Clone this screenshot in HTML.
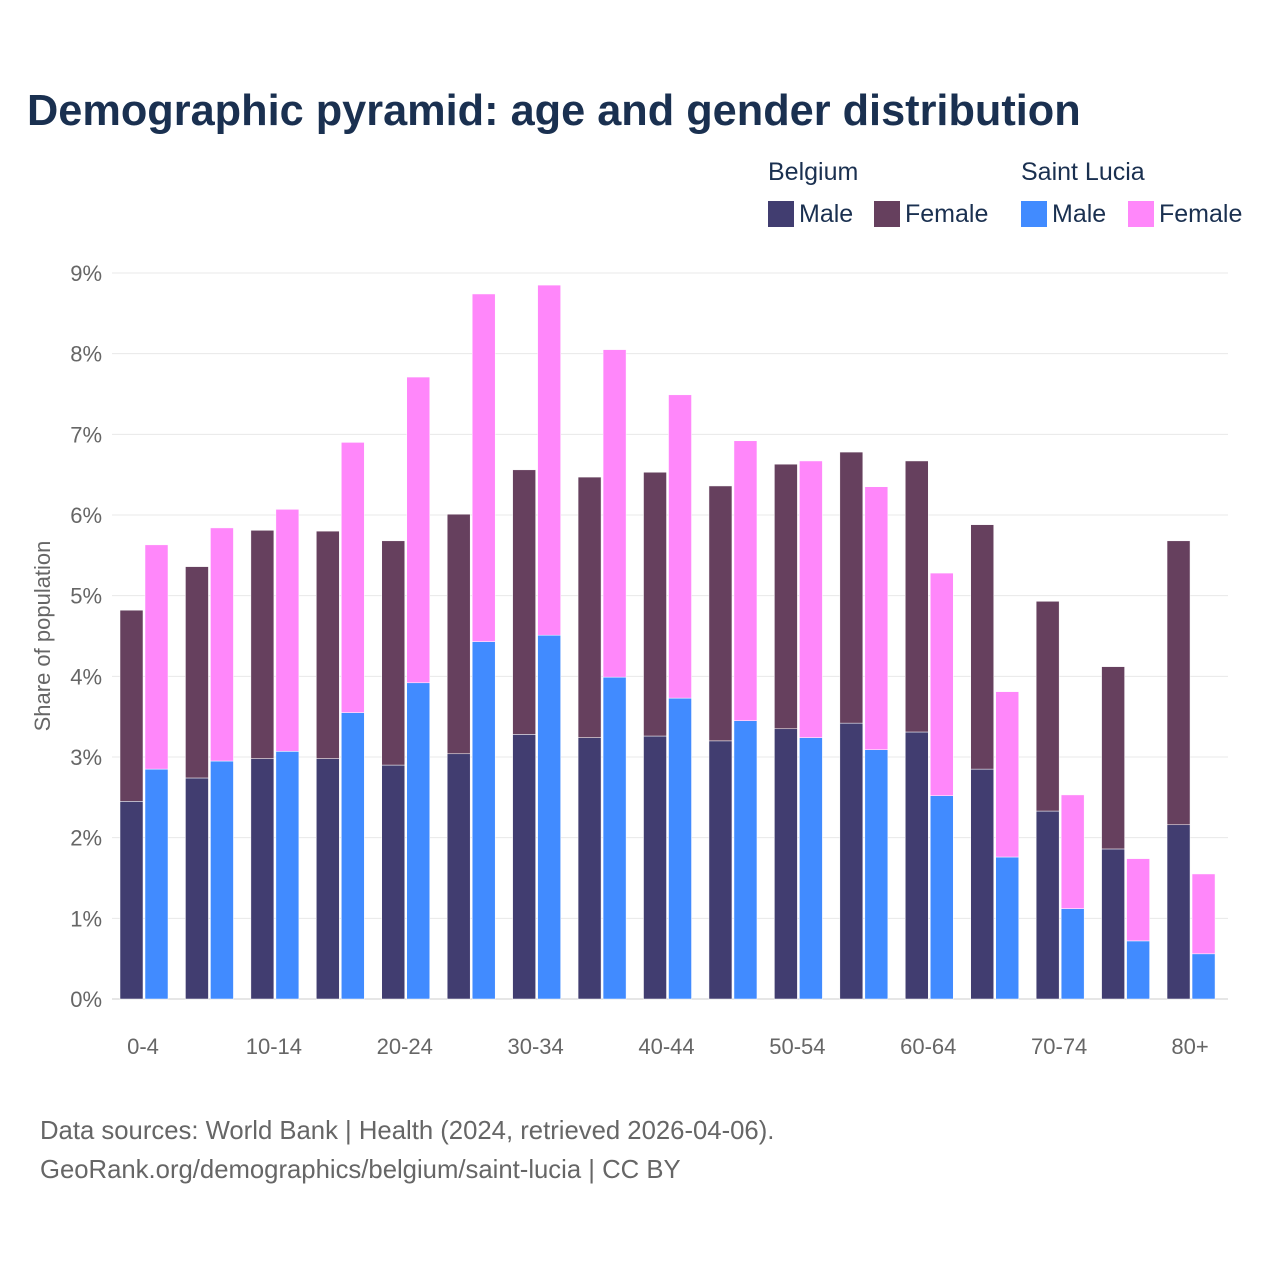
<!DOCTYPE html>
<html><head><meta charset="utf-8">
<style>
body{margin:0;background:#fff;font-family:"Liberation Sans",sans-serif;}
#wrap{position:relative;width:1280px;height:1280px;overflow:hidden}
</style></head>
<body>
<div id="wrap">
<svg id="chart" width="1280" height="1280">
<text x="27" y="125" font-size="43.3" font-weight="bold" fill="#1a3050">Demographic pyramid: age and gender distribution</text>
<g font-size="25" fill="#1a3050">
<text x="768" y="180">Belgium</text>
<text x="1021" y="180">Saint Lucia</text>
<rect x="768" y="201" width="26" height="26" fill="#413d70"/>
<text x="799" y="222">Male</text>
<rect x="874" y="201" width="26" height="26" fill="#66405e"/>
<text x="905" y="222">Female</text>
<rect x="1021" y="201" width="26" height="26" fill="#418bff"/>
<text x="1052" y="222">Male</text>
<rect x="1128" y="201" width="26" height="26" fill="#ff87fa"/>
<text x="1159" y="222">Female</text>
</g>
<text transform="translate(50,636) rotate(-90)" text-anchor="middle" font-size="22" fill="#666">Share of population</text>
<g id="grid"></g><g id="bars"></g><g id="xlabels"></g>
<text x="40" y="1139" font-size="25.7" fill="#666">Data sources: World Bank | Health (2024, retrieved 2026-04-06).</text>
<text x="40" y="1178" font-size="25.7" fill="#666">GeoRank.org/demographics/belgium/saint-lucia | CC BY</text>
</svg>
</div>
<script>
const categories=["0-4","5-9","10-14","15-19","20-24","25-29","30-34","35-39","40-44","45-49","50-54","55-59","60-64","65-69","70-74","75-79","80+"];
const beMale=[2.45,2.74,2.98,2.98,2.90,3.04,3.28,3.24,3.26,3.20,3.35,3.42,3.31,2.85,2.33,1.86,2.16];
const beFemale=[2.37,2.62,2.83,2.82,2.78,2.97,3.28,3.23,3.27,3.16,3.28,3.36,3.36,3.03,2.60,2.26,3.52];
const slMale=[2.85,2.95,3.07,3.55,3.92,4.43,4.51,3.99,3.73,3.45,3.24,3.09,2.52,1.76,1.12,0.72,0.56];
const slFemale=[2.78,2.89,3.00,3.35,3.79,4.31,4.34,4.06,3.76,3.47,3.43,3.26,2.76,2.05,1.41,1.02,0.99];
const yTicks=[0,1,2,3,4,5,6,7,8,9];
const NS="http://www.w3.org/2000/svg";
const y0=999,pxPer=(999-273)/9;
const yS=v=>y0-v*pxPer;
const xC=i=>143+i*65.44;
function mk(t,a,p){const e=document.createElementNS(NS,t);for(const k in a)e.setAttribute(k,a[k]);p.appendChild(e);return e;}
const grid=document.getElementById('grid'),bars=document.getElementById('bars'),xl=document.getElementById('xlabels');
yTicks.forEach(t=>{
 const l=mk('line',{x1:112,x2:1228,y1:yS(t),y2:yS(t),stroke:t===0?'#ccc':'#e8e8e8','stroke-width':1},grid);
 
 
 const tx=mk('text',{x:102,y:yS(t)+8,'text-anchor':'end','font-size':22,fill:'#666'},grid);
 tx.textContent=t+'%';
 
 
});
categories.forEach((c,i)=>{
 const cx=xC(i);
 const specs=[[cx-23,beMale[i],beFemale[i],'#413d70','#66405e','belgium'],[cx+2,slMale[i],slFemale[i],'#418bff','#ff87fa','saint-lucia']];
 specs.forEach(s=>{
  const m=mk('rect',{x:s[0],y:yS(s[1]),width:23,height:s[1]*pxPer,fill:s[3],stroke:'#fff','stroke-width':0.5},bars);
  
  
  const f=mk('rect',{x:s[0],y:yS(s[1]+s[2]),width:23,height:s[2]*pxPer,fill:s[4],stroke:'#fff','stroke-width':0.5},bars);
  
  
 });
 if(i%2===0){
  const t=mk('text',{x:cx,y:1054,'text-anchor':'middle','font-size':22,fill:'#666'},xl);
  t.textContent=c;
  
  
 }
});
</script>
</body></html>
